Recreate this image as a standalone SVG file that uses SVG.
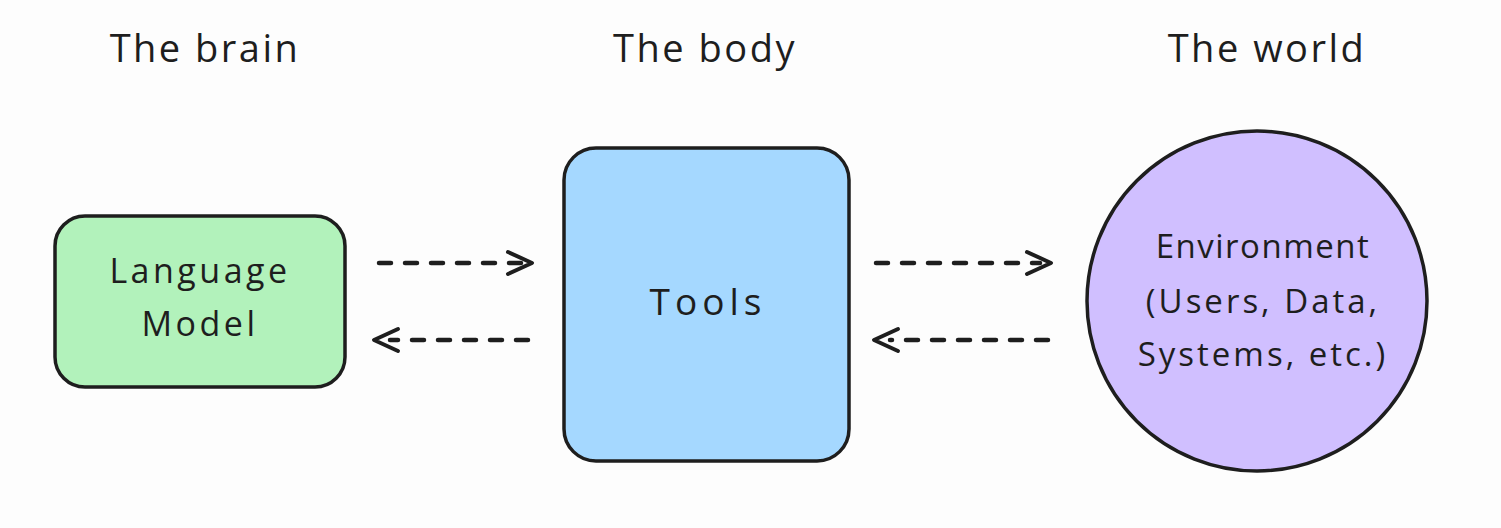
<svg xmlns="http://www.w3.org/2000/svg" width="1501" height="528" viewBox="0 0 1501 528">
<style>
.title{font-family:"Open Sans","Liberation Sans",sans-serif;font-size:38px;letter-spacing:2.5px;fill:#1e1e1e;text-anchor:middle}
.lbl{font-family:"Open Sans","Liberation Sans",sans-serif;font-size:33px;letter-spacing:3px;fill:#1e1e1e;text-anchor:middle}
.node{stroke:#1e1e1e;stroke-width:3.5}
.conn{stroke:#1e1e1e;stroke-width:4.5;fill:none;stroke-dasharray:12 14;stroke-linecap:round}
.head{stroke:#1e1e1e;stroke-width:4;fill:none;stroke-linecap:round;stroke-linejoin:round}
</style>
<rect width="1501" height="528" fill="#fdfdfd"/>
<g id="titles">
<text class="title" x="205" y="62">The brain</text>
<text class="title" x="705" y="62">The body</text>
<text class="title" x="1267" y="62">The world</text>
</g>
<g id="language-model">
<rect class="node" x="55" y="216" width="290" height="171" rx="30" fill="#b2f2bb"/>
<text class="lbl" x="200" y="283" style="font-size:34px;letter-spacing:3.5px">Language</text>
<text class="lbl" x="200" y="336" style="font-size:34px;letter-spacing:3.5px">Model</text>
</g>
<g id="tools">
<rect class="node" x="564" y="148" width="285" height="313" rx="32" fill="#a5d8ff"/>
<text class="lbl" x="708" y="315" style="font-size:37px;letter-spacing:5px">Tools</text>
</g>
<g id="environment">
<circle class="node" cx="1257" cy="301" r="170" fill="#d0bfff"/>
<text class="lbl" x="1263" y="258" style="letter-spacing:1.5px">Environment</text>
<text class="lbl" x="1263" y="313">(Users, Data,</text>
<text class="lbl" x="1263" y="366">Systems, etc.)</text>
</g>
<g id="connectors">
<line class="conn" x1="379" y1="263" x2="530" y2="263"/>
<polyline class="head" points="508,252 532,263 508,274"/>
<line class="conn" x1="528" y1="340" x2="390" y2="340"/>
<polyline class="head" points="398,329 374,340 398,351"/>
<line class="conn" x1="876" y1="263" x2="1040" y2="263"/>
<polyline class="head" points="1027,252 1051,263 1027,274"/>
<line class="conn" x1="1048" y1="340" x2="890" y2="340"/>
<polyline class="head" points="898,329 874,340 898,351"/>
</g>
</svg>
